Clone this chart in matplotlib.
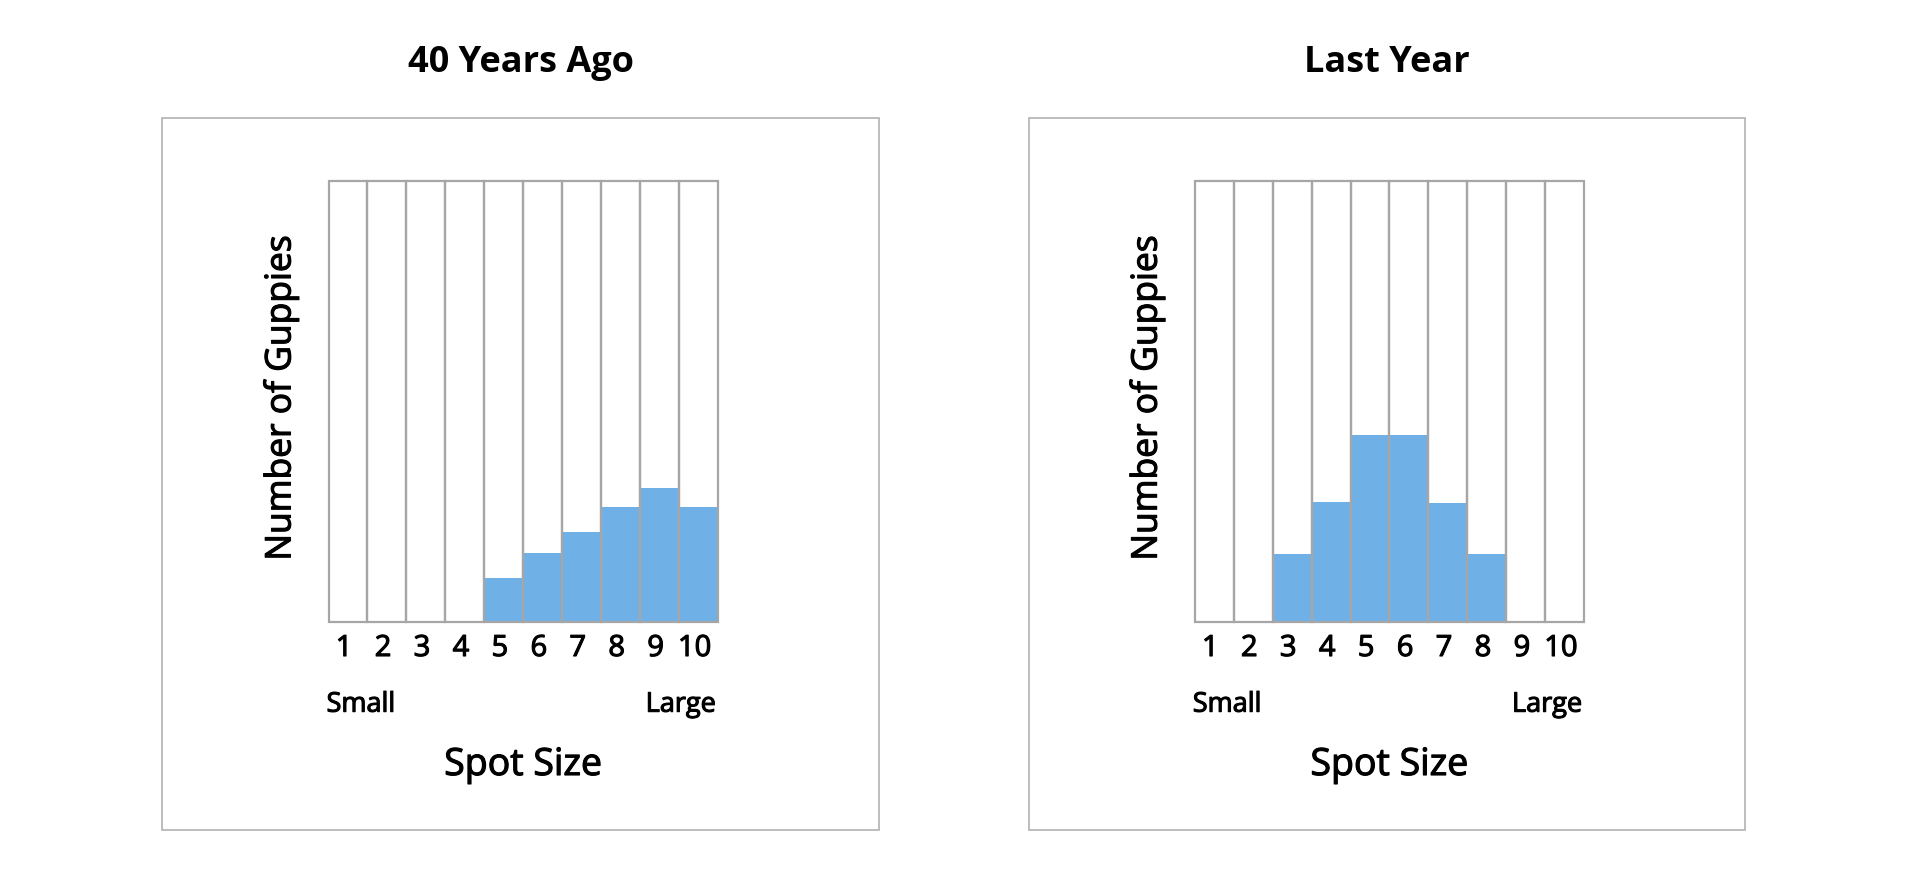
import matplotlib
matplotlib.use("Agg")
import matplotlib.pyplot as plt
import matplotlib.patheffects as pe
from matplotlib.patches import Rectangle

plt.rcParams['font.family'] = ['Open Sans', 'DejaVu Sans']

# spot size classes and guppy counts (share of panel height, %)
spot_sizes = [1, 2, 3, 4, 5, 6, 7, 8, 9, 10]
counts_40_years_ago = [0, 0, 0, 0, 10, 15.7, 20.5, 26.2, 30.3, 26.2]
counts_last_year = [0, 0, 15.4, 27.3, 42.5, 42.5, 27, 15.5, 0, 0]
titles = ["40 Years Ago", "Last Year"]
y_max = 100

W, H = 1908, 883
BLUE = '#6fb1e7'
GRID = '#a6a6a6'
BOX = '#b8b8b8'
# slightly heavier strokes for the regular-weight labels
HEAVY = [pe.withStroke(linewidth=0.8, foreground='black')]

fig = plt.figure(figsize=(W / 100, H / 100), dpi=100)


def px_axes(left, top, right, bottom):
    return [left / W, 1 - bottom / H, (right - left) / W, (bottom - top) / H]


def draw_panel(ax, counts, title, box_left, box_right):
    # outer frame
    fig.add_artist(Rectangle((box_left / W, 1 - 830 / H), (box_right - box_left) / W,
                             (830 - 118) / H, transform=fig.transFigure,
                             fill=False, edgecolor=BOX, lw=1.3))
    fig.text((box_left + box_right) / 2 / W, 1 - 71.7 / H, title,
             ha='center', va='baseline', fontsize=26, fontweight='bold')

    ax.bar(spot_sizes, counts, width=1, color=BLUE, edgecolor='none')
    ax.bar(spot_sizes, [y_max] * len(spot_sizes), width=1, fill=False,
           edgecolor=GRID, lw=1.6, clip_on=False)
    ax.set_xlim(0.5, 10.5)
    ax.set_ylim(0, y_max)
    ax.set_xticks([])
    ax.set_yticks([])
    for s in ax.spines.values():
        s.set_visible(False)

    tr = ax.get_xaxis_transform()
    for s in spot_sizes:
        ax.text(s - 0.1, -0.0763, str(s), transform=tr, ha='center',
                va='baseline', fontsize=21, path_effects=HEAVY)
    ax.text(-0.005, -0.2024, "Small", transform=ax.transAxes, ha='left',
            va='baseline', fontsize=19.5, path_effects=HEAVY)
    ax.text(0.995, -0.2024, "Large", transform=ax.transAxes, ha='right',
            va='baseline', fontsize=19.5, path_effects=HEAVY)
    ax.text(0.5, -0.3458, "Spot Size", transform=ax.transAxes, ha='center',
            va='baseline', fontsize=27, path_effects=HEAVY)
    ax.text(-0.122, 0.508, "Number of Guppies", transform=ax.transAxes,
            rotation=90, ha='center', va='center', fontsize=25.5,
            path_effects=HEAVY)


ax1 = fig.add_axes(px_axes(328.5, 180.7, 718, 622.3))
ax2 = fig.add_axes(px_axes(1194.7, 180.7, 1584.3, 622.3))

draw_panel(ax1, counts_40_years_ago, titles[0], 162, 879)
draw_panel(ax2, counts_last_year, titles[1], 1029, 1745)

fig.savefig("out.png", dpi=100, facecolor='white')
